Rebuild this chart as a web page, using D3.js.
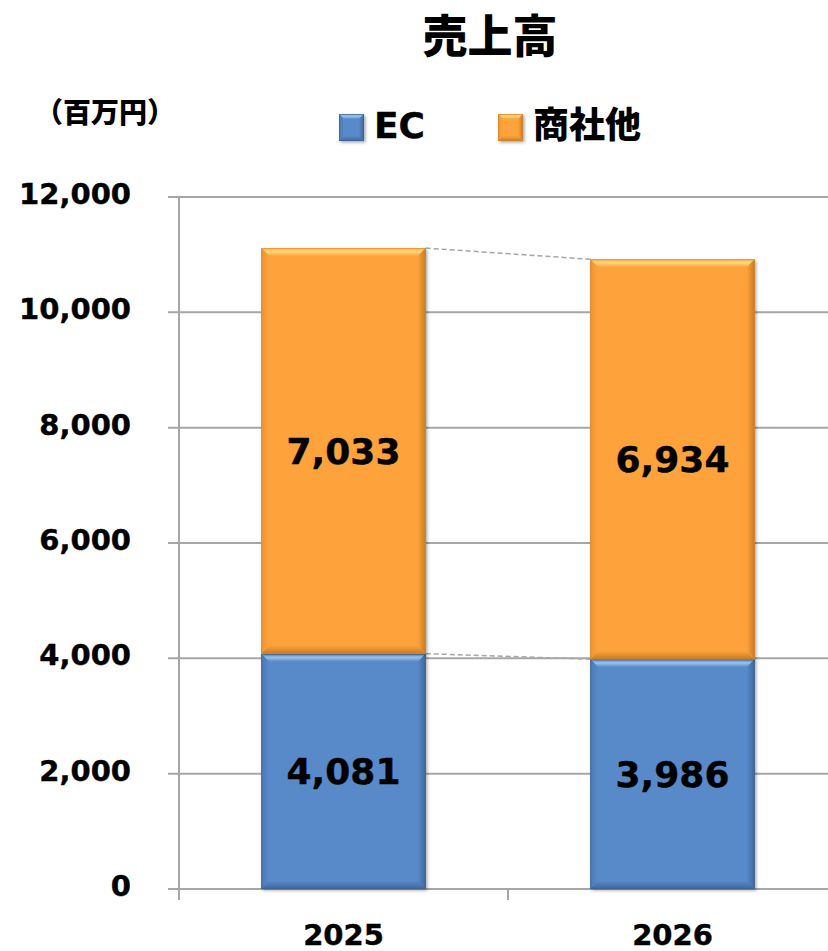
<!DOCTYPE html>
<html><head><meta charset="utf-8">
<script src="https://cdn.jsdelivr.net/npm/d3@7"></script>
<style>body{margin:0;background:#fff}svg{display:block}text{font-family:"DejaVu Sans","Noto Sans CJK JP",sans-serif;font-weight:bold;fill:#000}</style>
</head><body>
<script>
const categories = ["2025", "2026"];
const seriesNames = ["EC", "商社他"];
const ecValues = [4081, 3986];
const otherValues = [7033, 6934];
const yTicks = [0, 2000, 4000, 6000, 8000, 10000, 12000];
const title = "売上高";
const unitLabel = "（百万円）";

const W = 828, H = 951;
const svg = d3.select("body").append("svg").attr("width", W).attr("height", H);
const defs = svg.append("defs");

const y = d3.scaleLinear().domain([0, 12000]).range([889, 197]);
const x = d3.scaleBand().domain(categories).range([179, 837]).paddingInner(0.5).paddingOuter(0.25);

const palettes = [
  {main: "#5889C8", light: "#9CC6F2", top2: "#6E9DD8", dark: "#3F6699", side: "#4C79B5", edge: "#3D5F8E"},
  {main: "#FEA23B", light: "#FFD778", top2: "#FFB44E", dark: "#C87A22", side: "#EE9433", edge: "#C98634"}
];
palettes.forEach((p, i) => {
  const gT = defs.append("linearGradient").attr("id", "gt" + i).attr("x1", 0).attr("y1", 0).attr("x2", 0).attr("y2", 1);
  gT.append("stop").attr("offset", 0).attr("stop-color", p.top2);
  gT.append("stop").attr("offset", 0.45).attr("stop-color", p.light);
  gT.append("stop").attr("offset", 1).attr("stop-color", p.main);
  const gR = defs.append("linearGradient").attr("id", "gr" + i).attr("x1", 0).attr("y1", 0).attr("x2", 1).attr("y2", 0);
  gR.append("stop").attr("offset", 0).attr("stop-color", p.main);
  gR.append("stop").attr("offset", 1).attr("stop-color", p.dark);
  const gL = defs.append("linearGradient").attr("id", "gl" + i).attr("x1", 0).attr("y1", 0).attr("x2", 1).attr("y2", 0);
  gL.append("stop").attr("offset", 0).attr("stop-color", p.side);
  gL.append("stop").attr("offset", 1).attr("stop-color", p.main);
  const gB = defs.append("linearGradient").attr("id", "gb" + i).attr("x1", 0).attr("y1", 0).attr("x2", 0).attr("y2", 1);
  gB.append("stop").attr("offset", 0).attr("stop-color", p.main);
  gB.append("stop").attr("offset", 1).attr("stop-color", p.dark);
});
const sh = defs.append("filter").attr("id", "shadow").attr("x", "-10%").attr("y", "-10%").attr("width", "130%").attr("height", "130%");
sh.append("feDropShadow").attr("dx", 1.5).attr("dy", 1.5).attr("stdDeviation", 1.5).attr("flood-color", "#000").attr("flood-opacity", 0.35);

// Title
svg.append("text").attr("x", 490).attr("y", 53).attr("text-anchor", "middle").style("font-size", "45px")
  .style("font-family", "'Noto Sans CJK JP',sans-serif").style("font-weight", "900").text(title);
svg.append("text").attr("x", 105).attr("y", 123).attr("text-anchor", "middle").style("font-size", "28px")
  .style("font-family", "'Noto Sans CJK JP',sans-serif").style("font-weight", "900").text(unitLabel);

// Gridlines
const grid = svg.append("g");
grid.selectAll("line").data(yTicks).join("line")
  .attr("x1", 168).attr("x2", W).attr("y1", d => y(d)).attr("y2", d => y(d))
  .attr("stroke", "#a6a6a6").attr("stroke-width", 2);
svg.append("line").attr("x1", 179).attr("x2", 179).attr("y1", y(12000)).attr("y2", 900).attr("stroke", "#a6a6a6").attr("stroke-width", 2);
const catTicks = [179, 179 + x.step()];
svg.selectAll(".ct").data(catTicks).join("line").attr("class", "ct")
  .attr("x1", d => d).attr("x2", d => d).attr("y1", y(0)).attr("y2", 900).attr("stroke", "#a6a6a6").attr("stroke-width", 2);

// Y labels
svg.selectAll(".yl").data(yTicks).join("text").attr("class", "yl")
  .attr("x", 131).attr("y", d => y(d) + 7).attr("text-anchor", "end").style("font-size", "29px")
  .style("stroke", "#000").style("stroke-width", 0.4)
  .text(d => d3.format(",")(d));

// X labels
svg.selectAll(".xl").data(categories).join("text").attr("class", "xl")
  .attr("x", d => x(d) + x.bandwidth() / 2).attr("y", 945).attr("text-anchor", "middle").style("font-size", "29px")
  .style("stroke", "#000").style("stroke-width", 0.4)
  .text(d => d);

// Stacked data
const rows = categories.map((c, i) => ({cat: c, EC: ecValues[i], other: otherValues[i]}));
const stack = d3.stack().keys(["EC", "other"])(rows);

// Series lines
const bw = x.bandwidth();
stack.forEach(layer => {
  const p0 = layer[0], p1 = layer[1];
  svg.append("line")
    .attr("x1", x(categories[0]) + bw).attr("y1", y(p0[1]))
    .attr("x2", x(categories[1])).attr("y2", y(p1[1]))
    .attr("stroke", "#a6a6a6").attr("stroke-width", 1.5).attr("stroke-dasharray", "5,3");
});

function bevelBar(g, x0, y0, w, h, i, b) {
  const p = palettes[i];
  const bar = g.append("g");
  bar.append("rect").attr("x", x0).attr("y", y0).attr("width", w).attr("height", h).attr("fill", p.main)
    .attr("filter", "url(#shadow)");
  const x1 = x0 + w, y1 = y0 + h;
  bar.append("polygon").attr("points", [[x0, y0], [x1, y0], [x1 - b, y0 + b], [x0 + b, y0 + b]].join(" ")).attr("fill", `url(#gt${i})`);
  bar.append("polygon").attr("points", [[x1, y0], [x1, y1], [x1 - b, y1 - b], [x1 - b, y0 + b]].join(" ")).attr("fill", `url(#gr${i})`);
  bar.append("polygon").attr("points", [[x0, y0], [x0 + b, y0 + b], [x0 + b, y1 - b], [x0, y1]].join(" ")).attr("fill", `url(#gl${i})`);
  bar.append("polygon").attr("points", [[x0, y1], [x0 + b, y1 - b], [x1 - b, y1 - b], [x1, y1]].join(" ")).attr("fill", `url(#gb${i})`);
  bar.append("rect").attr("x", x0 + 0.5).attr("y", y0 + 0.5).attr("width", w - 1).attr("height", h - 1)
    .attr("fill", "none").attr("stroke", p.edge).attr("stroke-width", 1).attr("stroke-opacity", 0.6);
}

const barsG = svg.append("g");
stack.forEach((layer, i) => {
  layer.forEach((d, j) => {
    const cat = categories[j];
    bevelBar(barsG, x(cat), y(d[1]), bw, y(d[0]) - y(d[1]), i, 8);
  });
});
stack.forEach((layer, i) => {
  layer.forEach((d, j) => {
    const cat = categories[j];
    svg.append("text").attr("x", x(cat) + bw / 2).attr("y", (y(d[0]) + y(d[1])) / 2 + 13)
      .attr("text-anchor", "middle").style("font-size", "36px")
      .style("stroke", "#000").style("stroke-width", 0.4)
      .text(d3.format(",")(d[1] - d[0]));
  });
});

// Legend
const legendX = [339, 498];
seriesNames.forEach((name, i) => {
  const g = svg.append("g");
  const lx = legendX[i], ly = 114, s = 25;
  bevelBar(g, lx, ly, s, 27, i, 5);
  g.append("text").attr("x", lx + 35).attr("y", 138).style("font-size", "36px")
    .style("font-family", i === 1 ? "'Noto Sans CJK JP',sans-serif" : null)
    .style("font-weight", i === 1 ? "900" : "bold")
    .style("stroke", i === 0 ? "#000" : "none").style("stroke-width", 0.4)
    .text(name);
});
</script>
</body></html>
